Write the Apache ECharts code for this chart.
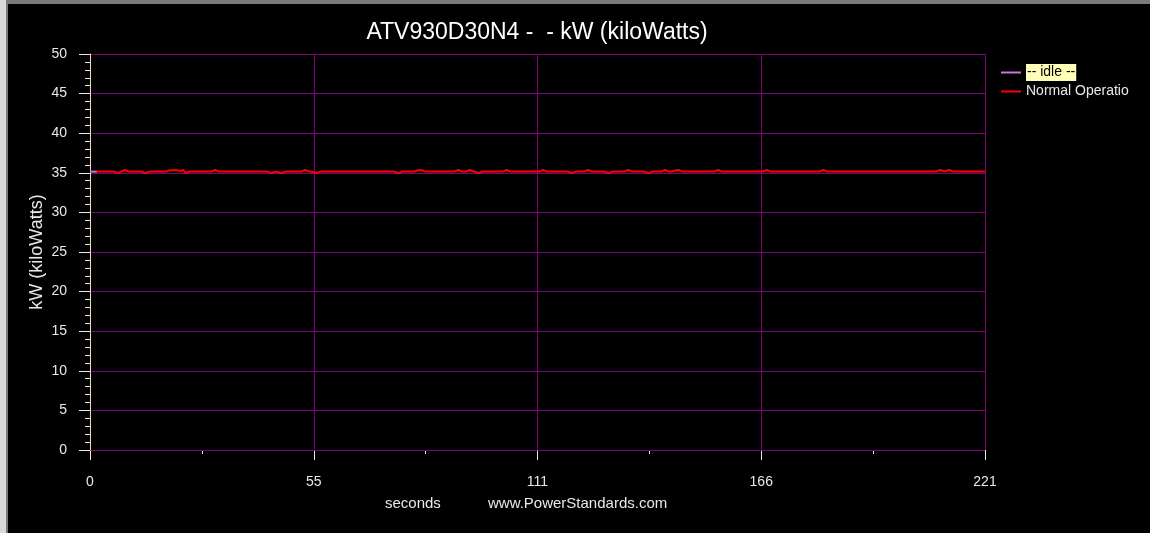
<!DOCTYPE html>
<html>
<head>
<meta charset="utf-8">
<script src="https://cdn.jsdelivr.net/npm/echarts@6/dist/echarts.min.js"></script>
<style>
  html, body { margin: 0; padding: 0; background: #000; }
  #chart { width: 1150px; height: 533px; }
</style>
</head>
<body>
<div id="chart"></div>
<script>
// ---- data ----
const titleText = 'ATV930D30N4 -  - kW (kiloWatts)';
const yAxisName = 'kW (kiloWatts)';
const xAxisName = 'seconds';
const siteText = 'www.PowerStandards.com';
const seriesNames = ['-- idle --', 'Normal Operation'];

const idleSeconds = [0, 1.7];
const idleKW = [35.15, 35.15];

const normalSeconds = [1.7, 6, 7, 8.6, 9.6, 12.7, 13.7, 14.7, 18.7, 19.7, 21.4, 22.3, 23, 23.7, 24.5, 29.9, 30.9, 31.9,
  43.8, 44.8, 45.8, 47.3, 48.3, 52.1, 53.1, 54.2, 55, 56, 57, 75.1, 76.1, 77.1, 80, 81, 81.9, 82.9, 89.9, 90.9, 91.9,
  92.8, 93.8, 95.9, 96.9, 101.9, 102.9, 103.9, 110.9, 111.9, 112.9, 117.9, 118.9, 119.9, 122, 123, 124, 127, 128, 129,
  131.9, 132.9, 133.9, 136.9, 137.9, 138.9, 141, 142, 143.2, 145.3, 146.3, 154.1, 155.1, 156.1, 166.1, 167.1, 168.1,
  180.1, 181.1, 182.1, 208.9, 209.9, 211, 212.2, 213.2, 221];
const normalKW = [35.15, 35.15, 34.98, 35.35, 35.15, 35.15, 34.98, 35.15, 35.15, 35.33, 35.33, 35.22, 35.35, 34.98, 35.15, 35.15, 35.35, 35.15,
  35.15, 34.98, 35.15, 34.98, 35.15, 35.15, 35.35, 35.15, 35.1, 34.98, 35.15, 35.15, 34.98, 35.15, 35.15, 35.33, 35.33, 35.15, 35.15, 35.35, 35.15,
  35.15, 35.35, 34.98, 35.15, 35.15, 35.35, 35.15, 35.15, 35.35, 35.15, 35.15, 34.98, 35.15, 35.15, 35.35, 35.15, 35.15, 34.98, 35.15,
  35.15, 35.35, 35.15, 35.15, 34.98, 35.15, 35.15, 35.35, 35.12, 35.35, 35.15, 35.15, 35.35, 35.15, 35.15, 35.35, 35.15,
  35.15, 35.35, 35.15, 35.15, 35.35, 35.2, 35.35, 35.15, 35.15];

const xMin = 0, xMax = 221, xStep = 55.25;
const yMin = 0, yMax = 50, yStep = 5;

// ---- chart ----
const FONT = "'Liberation Sans', Arial, sans-serif";
const gridColor = '#800080';
const textColor = '#e8e8e8';

const chart = echarts.init(document.getElementById('chart'), null, { renderer: 'canvas' });
const zip = (xs, ys) => xs.map((x, i) => [x, ys[i]]);

chart.setOption({
  backgroundColor: '#000000',
  animation: false,
  title: {
    text: titleText,
    left: 532, top: 16, textAlign: 'center',
    textStyle: { color: '#ffffff', fontFamily: FONT, fontSize: 23, fontWeight: 'normal' }
  },
  grid: { left: 90, right: 165, top: 54, bottom: 83, containLabel: false },
  legend: {
    orient: 'vertical', left: 996, top: 59,
    itemWidth: 20, itemHeight: 2, itemGap: 2, icon: 'rect',
    textStyle: { color: textColor, fontFamily: FONT, fontSize: 14, height: 17, lineHeight: 17 },
    data: [
      { name: seriesNames[0], textStyle: { color: '#000', backgroundColor: '#ffffb8', padding: [0, 1] } },
      { name: seriesNames[1], textStyle: { width: 110, overflow: 'truncate', ellipsis: '' } }
    ]
  },
  xAxis: [
    {
      type: 'value', min: xMin, max: xMax, interval: xStep,
      axisLine: { show: false }, axisTick: { show: false },
      axisLabel: { color: textColor, fontFamily: FONT, fontSize: 14, margin: 25,
        formatter: v => String(Math.round(v)) },
      splitLine: { show: true, lineStyle: { color: gridColor, width: 1 } }
    },
    {
      type: 'value', min: xMin, max: xMax, interval: xStep, position: 'bottom', offset: 6,
      axisLine: { show: false }, axisLabel: { show: false }, splitLine: { show: false },
      axisTick: { show: true, length: 10, lineStyle: { color: textColor } },
      minorTick: { show: true, splitNumber: 2, length: 4, lineStyle: { color: textColor } }
    }
  ],
  yAxis: [
    {
      type: 'value', min: yMin, max: yMax, interval: yStep, z: 3,
      name: yAxisName, nameLocation: 'middle', nameGap: 44, nameMoveOverlap: false,
      nameTextStyle: { color: textColor, fontFamily: FONT, fontSize: 18 },
      axisLine: { show: true, lineStyle: { color: '#f2dcae', width: 1 } },
      axisTick: { show: false },
      axisLabel: { color: textColor, fontFamily: FONT, fontSize: 14, margin: 23 },
      splitLine: { show: true, lineStyle: { color: gridColor, width: 1 } }
    },
    {
      type: 'value', min: yMin, max: yMax, interval: yStep, position: 'left', offset: 5,
      axisLine: { show: false }, axisLabel: { show: false }, splitLine: { show: false },
      axisTick: { show: true, length: 11, lineStyle: { color: textColor } },
      minorTick: { show: true, splitNumber: 5, length: 5, lineStyle: { color: textColor } }
    }
  ],
  series: [
    {
      name: seriesNames[0], type: 'line', data: zip(idleSeconds, idleKW),
      showSymbol: false, symbol: 'none', color: '#c878d8',
      lineStyle: { color: '#c878d8', width: 2 }, z: 3
    },
    {
      name: seriesNames[1], type: 'line', data: zip(normalSeconds, normalKW),
      showSymbol: false, symbol: 'none', color: '#ff0000',
      lineStyle: { color: '#ff0000', width: 2 }, z: 4
    }
  ],
  graphic: [
    { type: 'rect', left: 0, top: 0, shape: { width: 1150, height: 4 }, style: { fill: '#7a7a7a' }, z: 100 },
    { type: 'rect', left: 0, top: 0, shape: { width: 6, height: 533 }, style: { fill: '#d8d8d8' }, z: 100 },
    { type: 'rect', left: 6, top: 0, shape: { width: 2, height: 533 }, style: { fill: '#7a7a7a' }, z: 100 },
    { type: 'text', left: 385, top: 496, style: { text: xAxisName, fill: textColor, font: '15px ' + FONT } },
    { type: 'text', left: 488, top: 496, style: { text: siteText, fill: textColor, font: '15px ' + FONT } }
  ]
});
</script>
</body>
</html>
